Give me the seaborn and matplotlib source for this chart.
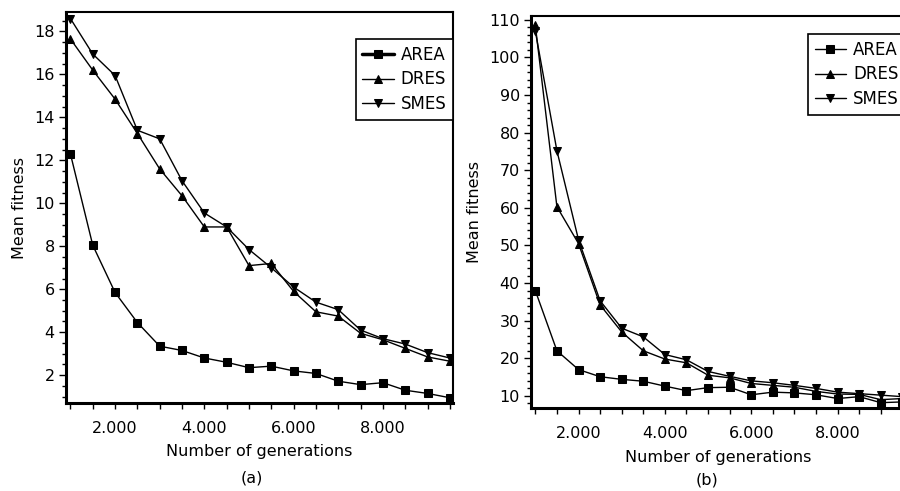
import numpy as np
import pandas as pd
import matplotlib
matplotlib.use("Agg")
import matplotlib.pyplot as plt
from matplotlib.ticker import MultipleLocator, FuncFormatter
import seaborn as sns

# generations sampled (x axis)
generations = [1000, 1500, 2000, 2500, 3000, 3500, 4000, 4500, 5000,
               5500, 6000, 6500, 7000, 7500, 8000, 8500, 9000, 9500]

# panel (a)
area_a = [12.3, 8.05, 5.85, 4.45, 3.35, 3.15, 2.8, 2.6, 2.35, 2.42, 2.2, 2.08, 1.72, 1.56, 1.65, 1.3, 1.15, 0.95]
dres_a = [17.65, 16.2, 14.85, 13.25, 11.6, 10.35, 8.9, 8.9, 7.1, 7.2, 5.9, 4.95, 4.75, 3.95, 3.65, 3.25, 2.85, 2.65]
smes_a = [18.6, 16.95, 15.95, 13.4, 13.0, 11.05, 9.55, 8.9, 7.85, 7.0, 6.1, 5.4, 5.05, 4.1, 3.7, 3.45, 3.05, 2.8]

# panel (b)
area_b = [38.0, 22.0, 17.0, 15.1, 14.4, 13.9, 12.6, 11.4, 12.2, 12.3, 10.3, 11.0, 10.8, 10.3, 9.3, 9.8, 8.2, 8.4]
dres_b = [108.5, 60.3, 50.5, 34.2, 27.0, 22.0, 19.8, 18.8, 15.5, 14.8, 13.3, 12.8, 12.3, 11.2, 10.5, 10.4, 9.0, 9.3]
smes_b = [107.0, 75.2, 51.5, 35.3, 28.0, 25.7, 21.0, 19.6, 16.5, 15.2, 14.0, 13.5, 12.8, 12.0, 11.0, 10.6, 10.2, 9.8]

methods = ["AREA", "DRES", "SMES"]
markers = ["s", "^", "v"]

sns.set_style("ticks")
plt.rcParams["font.family"] = ["DejaVu Sans"]
plt.rcParams["font.size"] = 11.5
for key in ["text.color", "axes.labelcolor", "xtick.color", "ytick.color"]:
    plt.rcParams[key] = "black"


def make_df(area, dres, smes):
    frames = []
    for name, vals in zip(methods, [area, dres, smes]):
        frames.append(pd.DataFrame({"gen": generations, "fit": vals, "method": name}))
    return pd.concat(frames, ignore_index=True)


def thousands(v, pos):
    return f"{int(round(v)):,}".replace(",", ".")


def draw_panel(ax, df, ylim, ymajor, yminor, legend_top, area_thick):
    sns.lineplot(data=df, x="gen", y="fit", hue="method", style="method",
                 markers=markers, dashes=False, palette=["black"] * 3,
                 errorbar=None, linewidth=1.0, markersize=5.8,
                 markeredgecolor="black", ax=ax)
    ax.set_xlim(900, 9570)
    ax.set_ylim(*ylim)
    ax.xaxis.set_major_locator(MultipleLocator(2000))
    ax.xaxis.set_minor_locator(MultipleLocator(500))
    ax.xaxis.set_major_formatter(FuncFormatter(thousands))
    ax.yaxis.set_major_locator(MultipleLocator(ymajor))
    ax.yaxis.set_minor_locator(MultipleLocator(yminor))
    ax.tick_params(axis="x", which="both", direction="out", length=4, width=1, pad=9, labelsize=11.5)
    ax.tick_params(axis="y", which="major", direction="out", length=5, width=1, pad=3, labelsize=11.5)
    ax.tick_params(axis="y", which="minor", direction="out", length=3, width=1)
    for side in ["left", "bottom"]:
        ax.spines[side].set_linewidth(2.2)
    for side in ["top", "right"]:
        ax.spines[side].set_visible(True)
        ax.spines[side].set_linewidth(1.5)
    for s in ax.spines.values():
        s.set_color("black")
    ax.set_xlabel("Number of generations", fontsize=11.5, labelpad=6)
    ax.set_ylabel("Mean fitness", fontsize=11.5, labelpad=5)

    handles, labels = ax.get_legend_handles_labels()
    leg = ax.legend(handles, labels, loc="upper right", bbox_to_anchor=(1.0, legend_top),
                    borderaxespad=0, frameon=True, fancybox=False, framealpha=1,
                    edgecolor="black", fontsize=12, handlelength=1.9,
                    labelspacing=0.4, borderpad=0.4, handletextpad=0.4)
    leg.get_frame().set_linewidth(1.2)
    if area_thick:
        leg.get_lines()[0].set_linewidth(2.5)
    return ax


fig = plt.figure(figsize=(9, 4.91), dpi=100)
ax1 = fig.add_axes([0.0733, 0.179, 0.43, 0.7963])
ax2 = fig.add_axes([0.59, 0.1684, 0.416, 0.799])

draw_panel(ax1, make_df(area_a, dres_a, smes_a), (0.7, 18.9), 2, 0.5, 0.931, True)
draw_panel(ax2, make_df(area_b, dres_b, smes_b), (6.7, 111.0), 10, 2, 0.954, False)

fig.text(0.2797, 1 - 478 / 491, "(a)", ha="center", va="center", fontsize=11.5)
fig.text(0.7852, 1 - 480 / 491, "(b)", ha="center", va="center", fontsize=11.5)

fig.savefig("out.png", dpi=100)
